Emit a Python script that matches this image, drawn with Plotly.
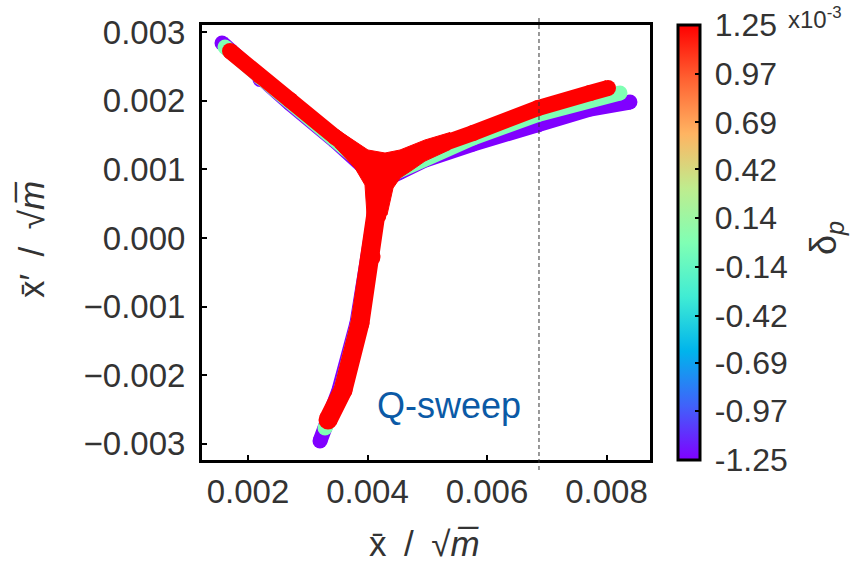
import plotly.graph_objects as go

# ---------------- data ----------------
dp_values = [-1.25e-3, 0.0, 1.25e-3]          # momentum deviation of each series

# upper-left arm
ul_x = {
    -1.25e-3: [0.001565, 0.002201, 0.002703, 0.003456, 0.004209],
    0.0:      [0.001615, 0.002201, 0.002703, 0.003456, 0.004226],
    1.25e-3:  [0.001699, 0.002201, 0.002703, 0.003456, 0.004243],
}
ul_y = {
    -1.25e-3: [0.002843, 0.002311, 0.001961, 0.001414, 0.000816],
    0.0:      [0.002784, 0.002340, 0.001990, 0.001443, 0.000860],
    1.25e-3:  [0.002726, 0.002361, 0.002012, 0.001472, 0.000962],
}
# right arm
r_x = {
    -1.25e-3: [0.004209, 0.004544, 0.004962, 0.005766, 0.006853, 0.007724, 0.008393],
    0.0:      [0.004226, 0.004544, 0.004962, 0.005766, 0.006853, 0.007724, 0.008226],
    1.25e-3:  [0.004243, 0.004628, 0.004962, 0.005766, 0.006853, 0.007724, 0.008025],
}
r_y = {
    -1.25e-3: [0.000816, 0.000962, 0.001137, 0.001370, 0.001647, 0.001880, 0.001982],
    0.0:      [0.000860, 0.000991, 0.001181, 0.001458, 0.001800, 0.002026, 0.002114],
    1.25e-3:  [0.000962, 0.001166, 0.001283, 0.001531, 0.001895, 0.002114, 0.002187],
}
# lower arm
lo_x = {
    -1.25e-3: [0.004209, 0.004109, 0.004008, 0.003824, 0.003523, 0.003205],
    0.0:      [0.004226, 0.004142, 0.004025, 0.003841, 0.003556, 0.003289],
    1.25e-3:  [0.004243, 0.004159, 0.004059, 0.003874, 0.003590, 0.003339],
}
lo_y = {
    -1.25e-3: [0.000816, 0.000335, -0.000277, -0.001239, -0.002216, -0.002959],
    0.0:      [0.000860, 0.000335, -0.000277, -0.001239, -0.002216, -0.002770],
    1.25e-3:  [0.000962, 0.000335, -0.000277, -0.001239, -0.002216, -0.002653],
}
# dense core where the three red arms meet (outline)
core_x = [0.003456, 0.003707, 0.004008, 0.004293, 0.004544, 0.004962, 0.005381, 0.005381,
          0.004962, 0.004745, 0.004544, 0.004427, 0.004326, 0.003992, 0.003958, 0.003791, 0.003456]
core_y = [0.001603, 0.001458, 0.001283, 0.001239, 0.001283, 0.001429, 0.001538, 0.001290,
          0.001122, 0.000991, 0.000875, 0.000729, 0.000335, 0.000335, 0.000773, 0.001020, 0.001331]

x_ticks = [0.002, 0.004, 0.006, 0.008]
y_ticks = [-0.003, -0.002, -0.001, 0.0, 0.001, 0.002, 0.003]
cb_tickvals = [-1.25e-3, -0.97e-3, -0.69e-3, -0.42e-3, -0.14e-3, 0.14e-3, 0.42e-3, 0.69e-3, 0.97e-3, 1.25e-3]
cb_ticktext = ["-1.25", "-0.97", "-0.69", "-0.42", "-0.14", "0.14", "0.42", "0.69", "0.97", "1.25"]
extraction_x = 0.00687

# ---------------- styling ----------------
rainbow = [
    [0.0, "rgb(128,0,255)"], [0.125, "rgb(64,98,250)"], [0.25, "rgb(0,180,236)"],
    [0.375, "rgb(64,236,212)"], [0.5, "rgb(128,255,180)"], [0.625, "rgb(191,236,142)"],
    [0.75, "rgb(255,180,98)"], [0.875, "rgb(255,98,50)"], [1.0, "rgb(255,0,0)"],
]
line_colors = {-1.25e-3: "rgb(128,0,255)", 0.0: "rgb(128,255,180)", 1.25e-3: "rgb(255,0,0)"}
arm_widths = {-1.25e-3: (15, 15, 15), 0.0: (15, 15, 15), 1.25e-3: (16, 16, 19)}
FONT = "Liberation Sans, Arial, sans-serif"
TXT = "#333333"

fig = go.Figure()
for dp in dp_values:
    arms = ((ul_x[dp], ul_y[dp]), (r_x[dp], r_y[dp]), (lo_x[dp], lo_y[dp]))
    for (xs, ys), w in zip(arms, arm_widths[dp]):
        fig.add_trace(go.Scatter(
            x=xs, y=ys, mode="lines+markers",
            line=dict(color=line_colors[dp], width=w),
            marker=dict(size=w, color=[dp] * len(xs), coloraxis="coloraxis", line=dict(width=0)),
            showlegend=False, hoverinfo="skip",
        ))
    if dp == dp_values[-1]:
        fig.add_trace(go.Scatter(
            x=core_x, y=core_y, mode="lines", fill="toself",
            fillcolor=line_colors[dp], line=dict(width=1, color=line_colors[dp]),
            showlegend=False, hoverinfo="skip",
        ))

axis_common = dict(
    showline=True, linecolor="black", linewidth=3, mirror=True,
    ticks="inside", ticklen=5, tickwidth=2, tickcolor="black",
    showgrid=False, zeroline=False, tickformat=".3f",
    tickfont=dict(family=FONT, size=33, color=TXT),
)
fig.update_layout(
    width=852, height=563,
    margin=dict(l=202, r=202, t=25, b=103),
    paper_bgcolor="white", plot_bgcolor="white",
    xaxis=dict(range=[0.00123, 0.008728], tickvals=x_ticks, ticklabelstandoff=0, **axis_common),
    yaxis=dict(range=[-0.003236, 0.003105], tickvals=y_ticks, ticklabelstandoff=7, **axis_common),
    coloraxis=dict(
        cmin=-1.25e-3, cmax=1.25e-3, colorscale=rainbow,
        colorbar=dict(
            x=1.0636, xanchor="left", xpad=0, ypad=0, y=0.5, yanchor="middle",
            len=1, lenmode="fraction", thickness=22,
            outlinewidth=3, outlinecolor="black",
            ticks="inside", ticklen=6, tickwidth=2, tickcolor="black",
            tickvals=cb_tickvals, ticktext=["\u2009" + t for t in cb_ticktext],
            tickfont=dict(family=FONT, size=32, color=TXT),
        ),
    ),
)

fig.add_shape(type="line", xref="x", yref="paper", x0=extraction_x, x1=extraction_x,
              y0=-0.023, y1=1.016, line=dict(color="#333333", width=1, dash="4px,3px"))

annos = [
    dict(text="Q-sweep", x=449, y=405, font=dict(family=FONT, size=36, color="#0b5aa6")),
    dict(text="x\u0304\u2002/\u2002\u221A<i>m\u0305</i>", x=424, y=543,
         font=dict(family=FONT, size=35, color=TXT)),
    dict(text="x\u0304\u2032\u2002/\u2002\u221A<i>m\u0305</i>", x=32, y=240, textangle=-90,
         font=dict(family=FONT, size=35, color=TXT)),
    dict(text="\u03B4<sub><i>p</i></sub>", x=826, y=238, textangle=-90,
         font=dict(family=FONT, size=36, color=TXT)),
    dict(text="x10<sup>-3</sup>", x=815, y=18, font=dict(family=FONT, size=24, color=TXT)),
]
for a in annos:
    fig.add_annotation(text=a["text"], font=a["font"], textangle=a.get("textangle", 0),
                       xref="paper", yref="paper", xanchor="center", yanchor="middle",
                       x=(a["x"] - 202) / 448, y=(460 - a["y"]) / 435, showarrow=False)

fig.write_html("out.html")
